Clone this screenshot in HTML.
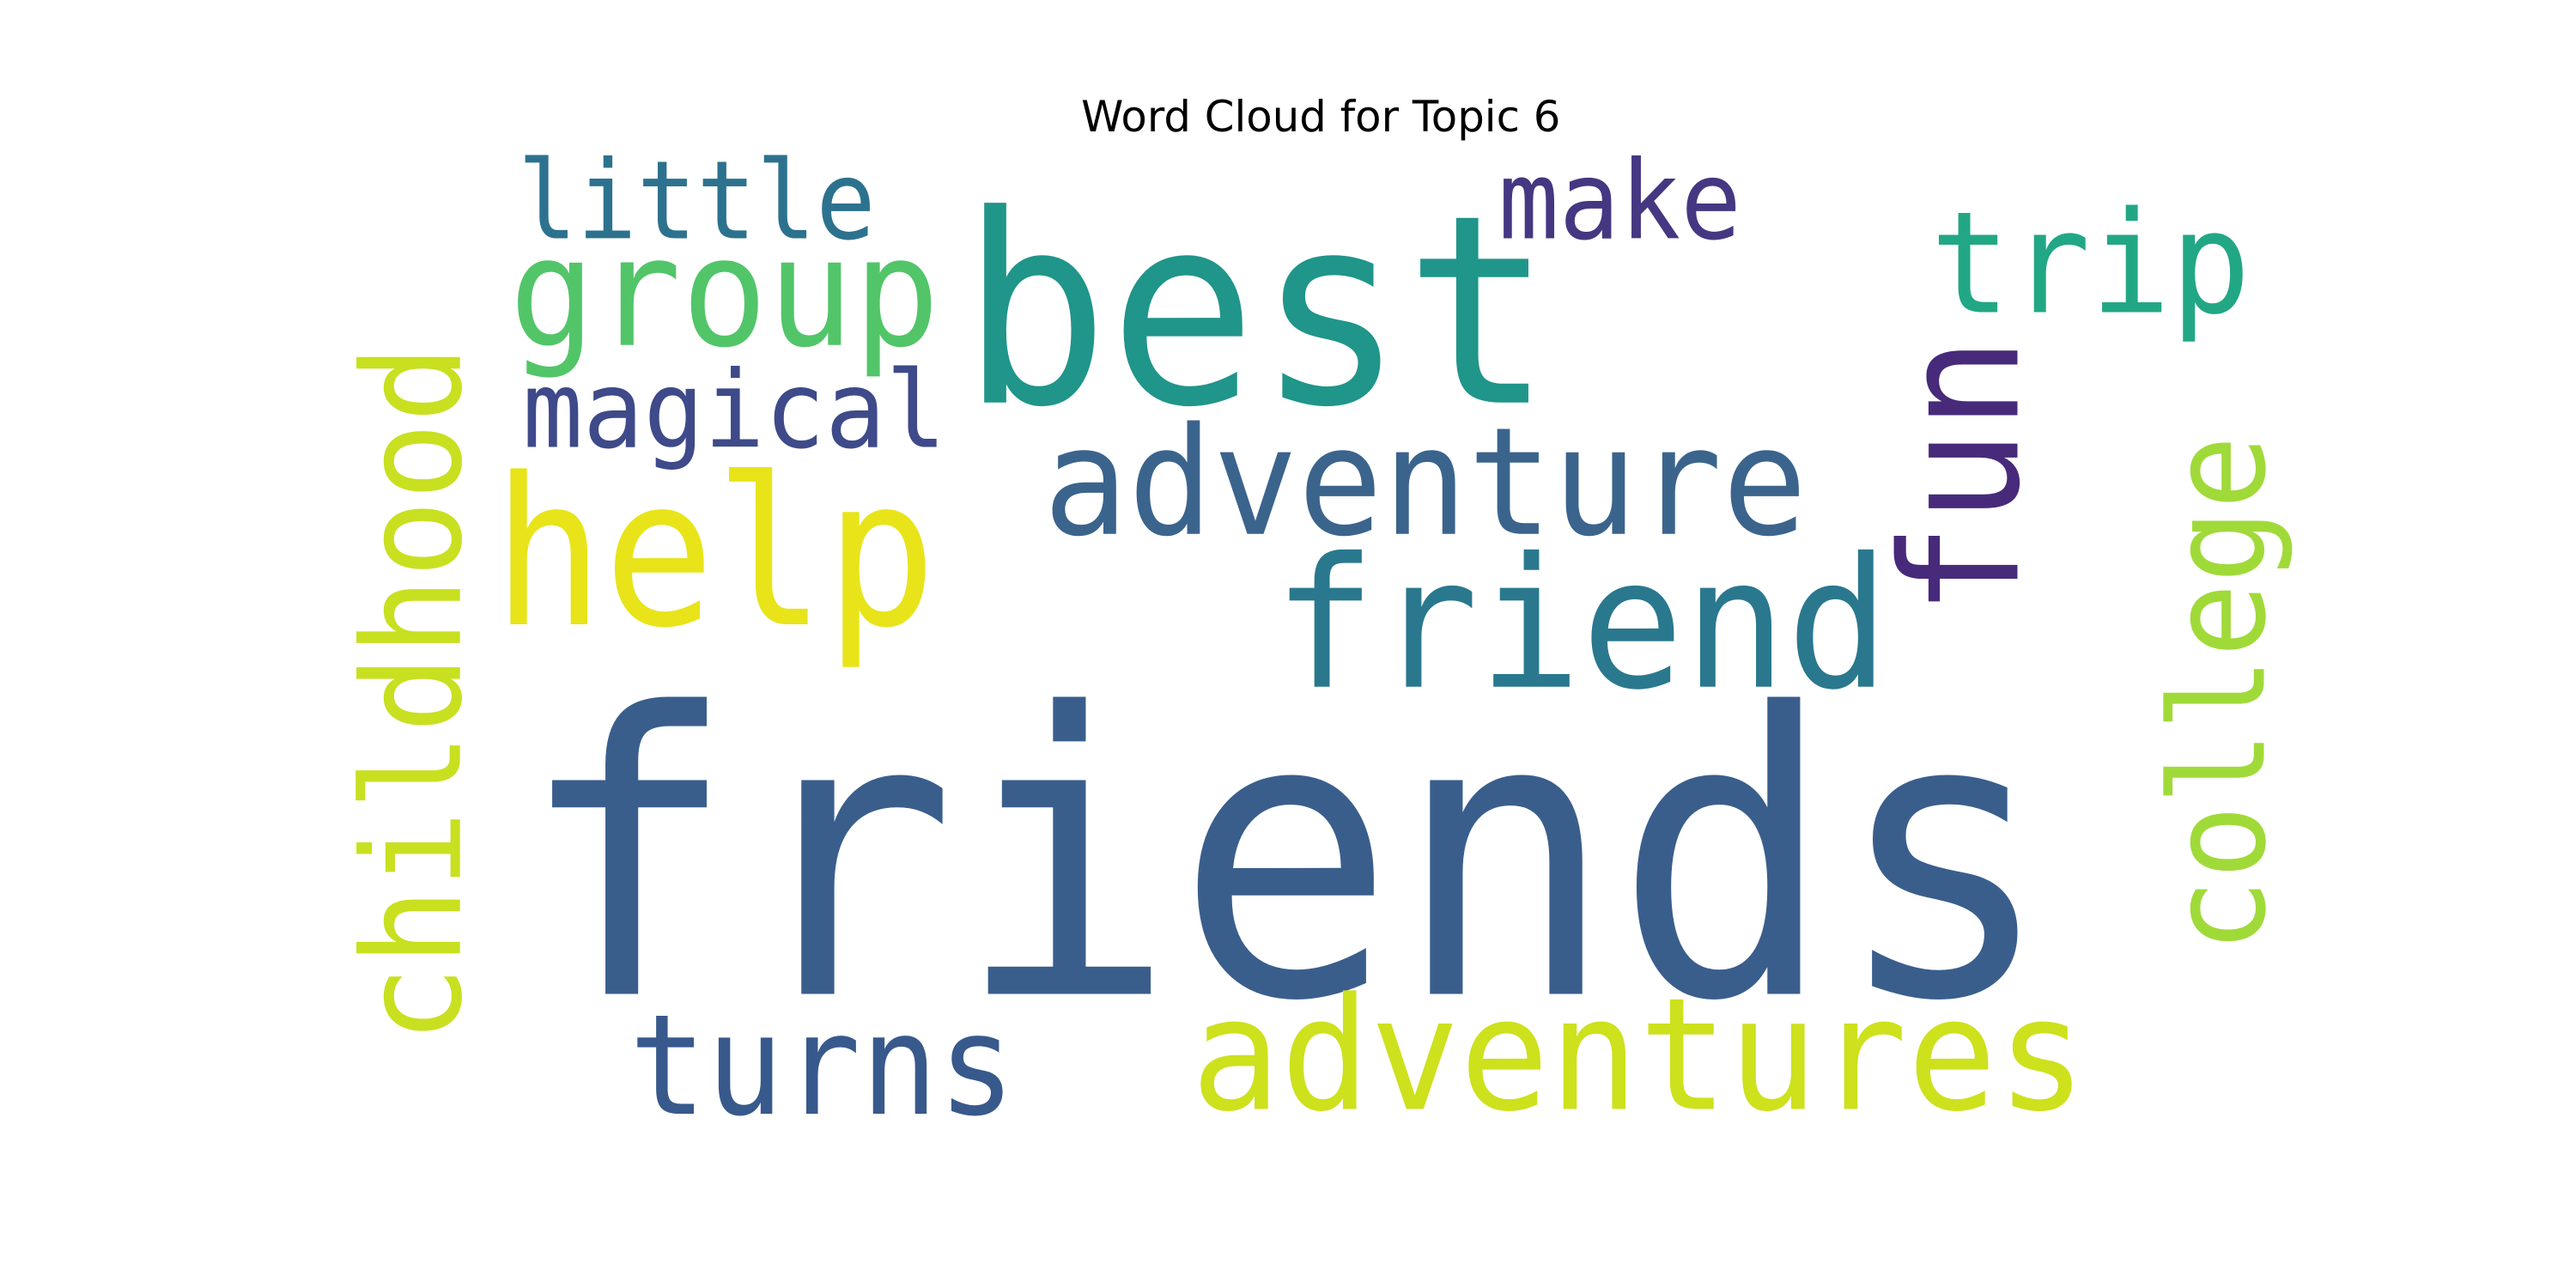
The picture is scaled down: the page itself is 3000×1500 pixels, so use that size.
<!DOCTYPE html>
<html><head><meta charset="utf-8"><style>html,body{margin:0;padding:0;background:#fff}svg{display:block}</style></head>
<body>
<svg width="3000" height="1500" viewBox="0 0 1568 784" xmlns="http://www.w3.org/2000/svg">
<rect width="1568" height="784" fill="#fff"/>
<text x="804" y="80" text-anchor="middle" font-family="DejaVu Sans, Liberation Sans, sans-serif" font-size="26" fill="#000">Word Cloud for Topic 6</text>
<g id="cloud" font-family="DejaVu Sans Mono, Liberation Mono, monospace"></g>
</svg>
<script>
const words = ["friends","best","help","friend","adventure","adventures","turns","group","little","magical","make","trip","fun","childhood","college"];
const sizes = [238,160,125,110,91,95,85,92,66,65,66,86,99,83,80];
const colors = ["#3a5e8c","#20958a","#e8e419","#2a788e","#3b648d","#cde11d","#38598c","#52c569","#2c728e","#3e4a89","#453781","#22a785","#472a7a","#c8e020","#a0da39"];
const layoutX = [315,585,300,775,635,725,383,310,315,318,912,1175,1228,280,1378];
const layoutY = [605,245,380,418,325,675,678,210,145,272,145,190,375,635,580];
const spanLen = [935,360,270,375,465,545,235,262,218,258,148,195,170,425,315];
const rotated = [0,0,0,0,0,0,0,0,0,0,0,0,1,1,1];
const g = document.getElementById('cloud');
words.forEach((w,i)=>{
  const t = document.createElementNS('http://www.w3.org/2000/svg','text');
  
  
  t.setAttribute('x', layoutX[i]);
  t.setAttribute('y', layoutY[i]);
  t.setAttribute('font-size', sizes[i]);
  t.setAttribute('fill', colors[i]);
  t.setAttribute('textLength', spanLen[i]);
  t.setAttribute('lengthAdjust', 'spacingAndGlyphs');
  if (rotated[i]) t.setAttribute('transform', `rotate(-90 ${layoutX[i]} ${layoutY[i]})`);
  t.textContent = w;
  g.appendChild(t);
});
</script>
</body></html>
